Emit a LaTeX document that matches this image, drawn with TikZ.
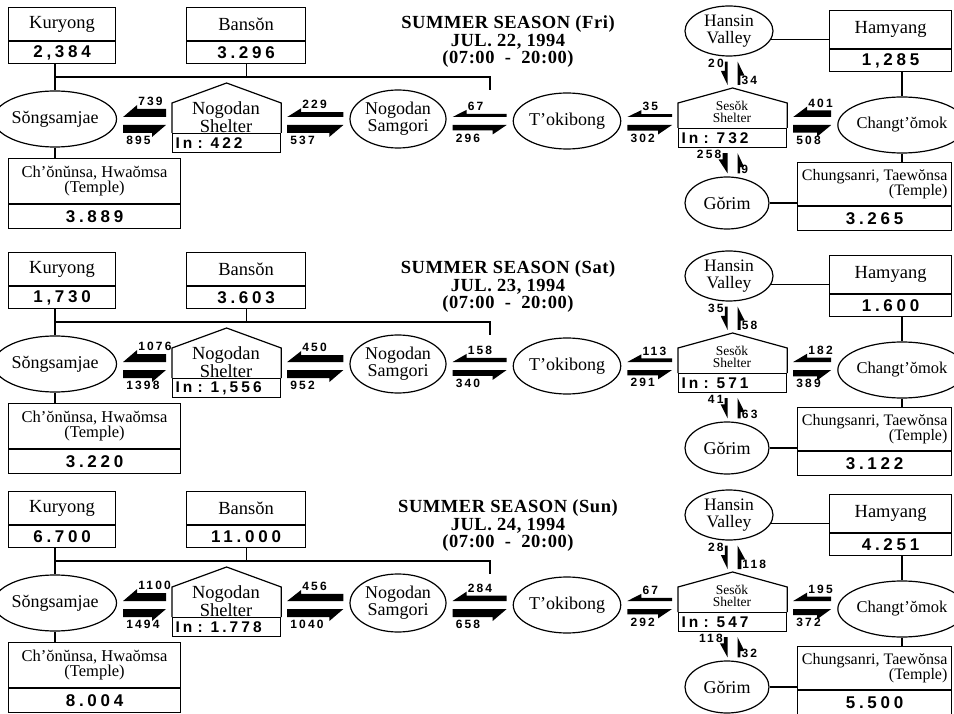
\documentclass[tikz,border=0pt]{standalone}
\usepackage{fontspec}
\setmainfont{Liberation Serif}
\newfontfamily\numfont{Liberation Sans}[LetterSpace=18]
\newfontfamily\titlefont{Liberation Serif}[LetterSpace=3]
\usetikzlibrary{shapes.geometric,calc}

\tikzset{
  box/.style={draw, line width=1.2pt, inner sep=1pt, align=center,
    font=\fontsize{18.5}{16}\selectfont},
  valbox/.style={box, font=\numfont\bfseries\fontsize{17}{17}\selectfont\addfontfeature{LetterSpace=22}},
  inbox/.style={valbox, font=\numfont\bfseries\fontsize{15.5}{15.5}\selectfont\addfontfeature{LetterSpace=20},
    minimum height=19, text width=102, inner sep=3pt, align=left},
  place/.style={draw, ellipse, line width=1.2pt, inner sep=0pt, align=center,
    font=\fontsize{18}{15.5}\selectfont},
  flownum/.style={inner sep=0pt, font=\numfont\bfseries\fontsize{12}{12}\selectfont},
  title/.style={align=center, font=\titlefont\bfseries\fontsize{18.5}{17.5}\selectfont},
  link/.style={line width=1.2pt},
  house/.style={line width=1.2pt, line join=miter},
}

% pair of half arrows between two nodes: upper one runs west, lower one east
\newcommand{\flowpair}[5]{%
  \pgfmathsetmacro\tw{min(8,2.5+#4/100)}%
  \pgfmathsetmacro\te{min(8,2.5+#5/100)}%
  \coordinate (tl) at ($(#1.east |- #3)+(6,-4)$);
  \coordinate (tr) at ($(#2.west |- #3)+(-6,-4)$);
  \coordinate (bl) at ($(#1.east |- #3)+(6,4)$);
  \coordinate (br) at ($(#2.west |- #3)+(-6,4)$);
  \fill (tr) -- (tl) -- ++(14,-\tw-4) -- ++(0,4) -- ($(tr)+(0,-\tw)$) -- cycle;
  \fill (bl) -- (br) -- ++(-14,\te+4) -- ++(0,-4) -- ($(bl)+(0,\te)$) -- cycle;
  \node[flownum, anchor=south west] (tn) at ($(tl)+(15,-\tw-3)$) {#4};
  \node[flownum, anchor=north west] (bn) at ($(bl)+(3,\te+3)$) {#5};
}

% pair of half arrows up and down: left one runs south, right one north
\newcommand{\vflowpair}[5]{%
  \pgfmathsetmacro\td{min(8,2.5+#4/100)}%
  \pgfmathsetmacro\tu{min(8,2.5+#5/100)}%
  \coordinate (dt) at ($(#3 |- #1)+(-5,5)$);
  \coordinate (db) at ($(#3 |- #2)+(-5,-3)$);
  \coordinate (ut) at ($(#3 |- #1)+(5,5)$);
  \coordinate (ub) at ($(#3 |- #2)+(5,-3)$);
  \fill (dt) -- (db) -- ++(-\td-4,-14) -- ++(4,0) -- ($(dt)+(-\td,0)$) -- cycle;
  \fill (ub) -- (ut) -- ++(\tu+4,14) -- ++(-4,0) -- ($(ub)+(\tu,0)$) -- cycle;
  \node[flownum, anchor=north east] (dn) at ($(dt)+(-\td-1,-3)$) {#4};
  \node[flownum, anchor=south west] (un) at ($(ub)+(\tu+1,0)$) {#5};
}

\begin{document}
\begin{tikzpicture}[x=1pt, y=-1pt]
  \useasboundingbox (0,0) rectangle (954,714);

  \foreach \p/\oy/\day/\dat/\ku/\ba/\ct/\nin/\sin/\hy/\cs in {
      1/0/Fri/22/{2,384}/3.296/3.889/422/732/{1,285}/3.265,
      2/245/Sat/23/{1,730}/3.603/3.220/{1,556}/571/1.600/3.122,
      3/484/Sun/24/6.700/11.000/8.004/1.778/547/4.251/5.500}
  {
    \node[title] (ti\p) at (508,42+\oy)
      {SUMMER SEASON (\day)\\JUL. \dat, 1994\\(07:00 \ - \ 20:00)};

    % west side
    \node[box, minimum width=107, minimum height=33, anchor=north west] (ku\p) at (8,7+\oy) {Kuryong};
    \node[valbox, minimum width=107, minimum height=22, anchor=north] (kuv\p) at (ku\p.south) {\ku};
    \node[box, minimum width=119, minimum height=33, anchor=north west] (ba\p) at (186,7+\oy) {Bansŏn};
    \node[valbox, minimum width=119, minimum height=22, anchor=north] (bav\p) at (ba\p.south) {\ba};
    \node[place, minimum width=98, minimum height=56] (sg\p) at (55,119+\oy) {Sŏngsamjae};
    \node[box, minimum width=172, minimum height=45, anchor=north west,
      font=\fontsize{16.5}{15.5}\selectfont] (ch\p) at (8,158+\oy) {Ch'ŏnŭnsa, Hwaŏmsa\\(Temple)};
    \node[valbox, minimum width=172, minimum height=24, anchor=north] (chv\p) at (ch\p.south) {\ct};

    % Nogodan shelter
    \node[inbox, anchor=north west] (nsi\p) at (172,133+\oy) {In : \nin};
    \coordinate (nsr\p) at ($(nsi\p.north)+(0,-50)$);
    \draw[house] (nsi\p.north west) -- ++(0,-30) -- (nsr\p) -- ($(nsi\p.north east)+(0,-30)$) -- (nsi\p.north east);
    \node[inner sep=0pt, align=center, font=\fontsize{18.5}{14.5}\selectfont] (ns\p) at (226,117+\oy) {Nogodan\\Shelter};

    \node[place, minimum width=96, minimum height=58] (nm\p) at (398,119+\oy) {Nogodan\\Samgori};
    \node[place, minimum width=96, minimum height=56] (tk\p) at (567,121+\oy) {T'okibong};

    % Sesok shelter
    \node[inbox, anchor=north west] (ssi\p) at (678,128+\oy) {In : \sin};
    \coordinate (ssr\p) at ($(ssi\p.north)+(0,-40)$);
    \draw[house] (ssi\p.north west) -- ++(0,-25) -- (ssr\p) -- ($(ssi\p.north east)+(0,-25)$) -- (ssi\p.north east);
    \node[inner sep=0pt, align=center, font=\fontsize{13.5}{12}\selectfont] (ss\p) at (732,112+\oy) {Sesŏk\\Shelter};

    % east side
    \node[place, minimum width=88, minimum height=50, font=\fontsize{17.5}{17}\selectfont] (hv\p) at (729,31+\oy) {Hansin\\Valley};
    \node[box, minimum width=122, minimum height=38, anchor=north west] (hy\p) at (829,10+\oy) {Hamyang};
    \node[valbox, minimum width=122, minimum height=22, anchor=north] (hyv\p) at (hy\p.south) {\hy};
    \node[place, minimum width=98, minimum height=56, font=\fontsize{16.5}{15}\selectfont] (cm\p) at (902,125+\oy) {Changt'ŏmok};
    \node[box, minimum width=154, minimum height=43, anchor=north west, align=right,
      font=\fontsize{16}{15.5}\selectfont] (cs\p) at (797,162+\oy) {Chungsanri, Taewŏnsa\\(Temple)};
    \node[valbox, minimum width=154, minimum height=24, anchor=north] (csv\p) at (cs\p.south) {\cs};
    \node[place, minimum width=84, minimum height=52] (gr\p) at (727,203+\oy) {Gŏrim};

    % links
    \coordinate (jn\p) at (490,77+\oy);
    \coordinate (row\p) at (0,121+\oy);
    \draw[link] (kuv\p.south -| sg\p.north) -- (sg\p.north);
    \draw[link] (sg\p.north |- jn\p) -- (jn\p) -- ++(0,13);
    \draw[link] (bav\p.south) -- (bav\p.south |- jn\p);
    \draw[link] (sg\p.south) -- (sg\p.south |- ch\p.north);
    \draw[link] (hv\p.-11) -- (hv\p.-11 -| hy\p.west);
    \draw[link] (hyv\p.south -| cm\p.north) -- (cm\p.north);
    \draw[link] (cm\p.south) -- (cm\p.south |- cs\p.north);
    \draw[link] (gr\p.east) -- (gr\p.east -| cs\p.west);
  }

  % Fri
  \flowpair{sg1}{nsi1}{row1}{739}{895}
  \flowpair{nsi1}{nm1}{row1}{229}{537}
  \flowpair{nm1}{tk1}{row1}{67}{296}
  \flowpair{tk1}{ssi1}{row1}{35}{302}
  \flowpair{ssi1}{cm1}{row1}{401}{508}
  \vflowpair{hv1.south}{ssr1}{ssi1}{20}{34}
  \vflowpair{ssi1.south}{gr1.north}{ssi1}{258}{9}

  % Sat
  \flowpair{sg2}{nsi2}{row2}{1076}{1398}
  \flowpair{nsi2}{nm2}{row2}{450}{952}
  \flowpair{nm2}{tk2}{row2}{158}{340}
  \flowpair{tk2}{ssi2}{row2}{113}{291}
  \flowpair{ssi2}{cm2}{row2}{182}{389}
  \vflowpair{hv2.south}{ssr2}{ssi2}{35}{58}
  \vflowpair{ssi2.south}{gr2.north}{ssi2}{41}{63}

  % Sun
  \flowpair{sg3}{nsi3}{row3}{1100}{1494}
  \flowpair{nsi3}{nm3}{row3}{456}{1040}
  \flowpair{nm3}{tk3}{row3}{284}{658}
  \flowpair{tk3}{ssi3}{row3}{67}{292}
  \flowpair{ssi3}{cm3}{row3}{195}{372}
  \vflowpair{hv3.south}{ssr3}{ssi3}{28}{118}
  \vflowpair{ssi3.south}{gr3.north}{ssi3}{118}{32}
\end{tikzpicture}
\end{document}
